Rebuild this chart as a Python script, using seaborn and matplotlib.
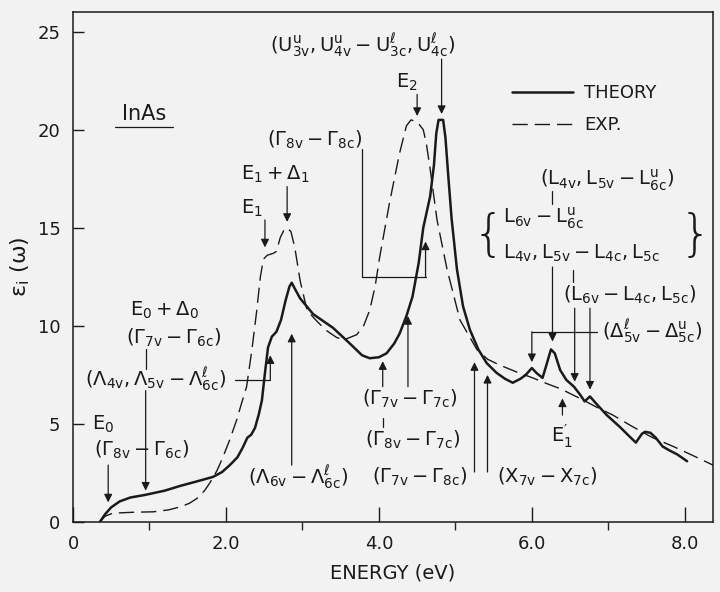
import numpy as np
import pandas as pd
import seaborn as sns
import matplotlib.pyplot as plt

# epsilon_2 of InAs
theory_e = [0.35, 0.42, 0.50, 0.61, 0.75, 0.94, 1.20, 1.40, 1.60, 1.83, 1.95, 2.05, 2.15,
            2.22, 2.28, 2.33, 2.38, 2.43, 2.47, 2.51, 2.55, 2.60, 2.66, 2.72, 2.78, 2.83,
            2.86, 2.90, 2.97, 3.14, 3.40, 3.62, 3.78, 3.88, 4.00, 4.10, 4.20, 4.27, 4.36,
            4.44, 4.52, 4.58, 4.67, 4.72, 4.75, 4.78, 4.84, 4.87, 4.91, 4.95, 5.02, 5.10,
            5.19, 5.30, 5.41, 5.54, 5.65, 5.75, 5.85, 5.92, 6.00, 6.06, 6.14, 6.19, 6.25,
            6.30, 6.37, 6.45, 6.55, 6.63, 6.69, 6.76, 6.85, 6.98, 7.15, 7.28, 7.36, 7.44,
            7.48, 7.55, 7.62, 7.71, 7.80, 7.90, 8.03]
theory_eps = [0.0, 0.4, 0.75, 1.05, 1.25, 1.38, 1.6, 1.84, 2.05, 2.3, 2.55, 2.9, 3.3,
              3.8, 4.3, 4.45, 4.8, 5.5, 6.2, 7.6, 8.9, 9.45, 9.7, 10.3, 11.3, 12.0,
              12.2, 11.9, 11.4, 10.6, 9.9, 9.1, 8.5, 8.35, 8.4, 8.6, 9.1, 9.6, 10.5,
              11.5, 13.2, 15.0, 16.6, 18.2, 19.8, 20.5, 20.5, 19.6, 17.5, 15.5, 12.9, 11.0,
              9.8, 8.8, 8.1, 7.6, 7.3, 7.1, 7.3, 7.5, 7.85, 7.6, 7.35, 8.0, 8.8,
              8.6, 7.75, 7.25, 6.9, 6.5, 6.15, 6.4, 6.0, 5.45, 4.85, 4.35, 4.05, 4.5,
              4.6, 4.55, 4.3, 3.85, 3.65, 3.45, 3.1]

exp_e = [0.35, 0.42, 0.52, 0.80, 1.05, 1.25, 1.40, 1.52, 1.62, 1.72, 1.79, 1.88, 1.96,
         2.05, 2.14, 2.20, 2.27, 2.34, 2.40, 2.45, 2.49, 2.54, 2.62, 2.66, 2.71, 2.76,
         2.80, 2.85, 2.90, 2.97, 3.06, 3.15, 3.30, 3.45, 3.55, 3.71, 3.80, 3.88, 3.95,
         4.01, 4.14, 4.27, 4.36, 4.42, 4.50, 4.58, 4.62, 4.67, 4.76, 4.89, 5.06, 5.28,
         5.42, 5.58, 5.80, 6.01, 6.20, 6.37, 6.63, 6.85, 7.06, 7.30, 7.58, 7.85, 8.10, 8.37]
exp_eps = [0.0, 0.3, 0.45, 0.5, 0.52, 0.62, 0.77, 0.95, 1.2, 1.6, 2.0, 2.6, 3.3,
           4.2, 5.2, 6.0, 6.9, 8.8, 10.7, 12.5, 13.4, 13.6, 13.7, 13.8, 14.5, 14.9,
           15.0, 14.8, 14.0, 12.3, 10.8, 10.4, 9.8, 9.4, 9.3, 9.55, 10.0, 10.8, 12.0,
           13.5, 16.3, 18.8, 20.2, 20.5, 20.4, 20.0, 19.3, 18.0, 15.4, 12.9, 10.3, 8.8,
           8.3, 8.0, 7.65, 7.35, 7.05, 6.8, 6.3, 5.85, 5.45, 4.9, 4.3, 3.85, 3.4, 2.9]

xticks = [0, 2, 4, 6, 8]
xtick_labels = ['0', '2.0', '4.0', '6.0', '8.0']
yticks = [0, 5, 10, 15, 20, 25]

df = pd.concat([
    pd.DataFrame({'energy': theory_e, 'eps': theory_eps, 'curve': 'THEORY'}),
    pd.DataFrame({'energy': exp_e, 'eps': exp_eps, 'curve': 'EXP.'}),
])

sns.set_theme(style='ticks')
bg = '#f2f2f2'
plt.rcParams['font.family'] = ['DejaVu Sans']
plt.rcParams['mathtext.fontset'] = 'dejavusans'
plt.rcParams['mathtext.default'] = 'regular'
plt.rcParams['text.color'] = 'k'
plt.rcParams['axes.labelcolor'] = 'k'

fig = plt.figure(figsize=(7.2, 5.92), dpi=100, facecolor=bg)
ax = fig.add_axes([0.1014, 0.1182, 0.889, 0.8615], facecolor=bg)

sns.lineplot(data=df[df.curve == 'THEORY'], x='energy', y='eps', color='k', lw=1.8,
             label='THEORY', ax=ax, sort=False)
sns.lineplot(data=df[df.curve == 'EXP.'], x='energy', y='eps', color='k', lw=1.0,
             dashes=(11, 5), label='EXP.', ax=ax, sort=False)

ax.set_xlim(0, 8.37)
ax.set_ylim(0, 26)
ax.set_xticks(xticks, xtick_labels)
ax.set_xticks([1, 3, 5, 7], minor=True)
ax.set_yticks(yticks, [str(v) for v in yticks])
ax.tick_params(direction='in', labelsize=13, colors='k')
ax.tick_params(axis='x', which='major', length=11, width=1, pad=9)
ax.tick_params(axis='x', which='minor', length=6, width=1)
ax.tick_params(axis='y', length=8, width=1, pad=9)
for s in ax.spines.values():
    s.set_linewidth(1.1)
    s.set_color('k')
ax.set_xlabel('ENERGY (eV)', fontsize=14, labelpad=8)
ax.set_ylabel(r'$\epsilon_i\ (\omega)$', fontsize=16, labelpad=4)

leg = ax.legend(frameon=False, loc='upper left', bbox_to_anchor=(0.66, 0.89),
                fontsize=13, handlelength=3.4, labelspacing=0.75, handletextpad=0.6)

fs = 14


def txt(x, y, s, ha='center', size=fs):
    ax.text(x, y, s, ha=ha, va='center', fontsize=size, color='k')


def arrow(x, y0, y1):
    ax.annotate('', xy=(x, y1), xytext=(x, y0),
                arrowprops=dict(arrowstyle='-|>', color='k', lw=0.9, shrinkA=0,
                                shrinkB=0, mutation_scale=12))


def line(xs, ys):
    ax.plot(xs, ys, color='k', lw=0.9)


# sample name
txt(0.93, 20.8, 'InAs', size=15)
line([0.55, 1.31], [20.15, 20.15])

# upper labels
txt(3.79, 24.3, r'$(U_{3v}^{u},U_{4v}^{u}-U_{3c}^{\ell},U_{4c}^{\ell})$')
arrow(4.82, 23.6, 20.8)
txt(4.37, 22.4, r'$E_2$')
arrow(4.50, 21.8, 20.7)
txt(3.16, 19.5, r'$(\Gamma_{8v}-\Gamma_{8c})$')
line([3.78, 3.78, 4.61], [19.0, 12.5, 12.5])
arrow(4.61, 12.5, 14.3)
txt(2.64, 17.7, r'$E_1+\Delta_1$')
arrow(2.80, 17.1, 15.3)
txt(2.34, 16.0, r'$E_1$')
arrow(2.51, 15.4, 14.0)

# left labels
txt(1.19, 10.8, r'$E_0+\Delta_0$')
txt(1.32, 9.4, r'$(\Gamma_{7v}-\Gamma_{6c})$')
line([0.95, 0.95], [8.8, 7.8])
arrow(0.95, 6.7, 1.6)
txt(1.08, 7.25, r'$(\Lambda_{4v},\Lambda_{5v}-\Lambda_{6c}^{\ell})$')
line([2.12, 2.58], [7.25, 7.25])
arrow(2.58, 7.25, 8.5)
txt(0.39, 5.0, r'$E_0$')
txt(0.90, 3.67, r'$(\Gamma_{8v}-\Gamma_{6c})$')
arrow(0.46, 2.9, 1.0)
txt(2.94, 2.25, r'$(\Lambda_{6v}-\Lambda_{6c}^{\ell})$')
arrow(2.86, 2.9, 9.6)

# lower middle labels
txt(4.40, 6.3, r'$(\Gamma_{7v}-\Gamma_{7c})$')
arrow(4.05, 6.9, 8.2)
arrow(4.38, 6.9, 10.5)
line([4.05, 4.05], [5.3, 4.85])
txt(4.44, 4.2, r'$(\Gamma_{8v}-\Gamma_{7c})$')
txt(4.54, 2.3, r'$(\Gamma_{7v}-\Gamma_{8c})$')
arrow(5.25, 2.55, 8.15)
txt(6.20, 2.3, r'$(X_{7v}-X_{7c})$')
arrow(5.42, 2.55, 7.5)
txt(6.40, 4.35, r"$E_1^{\prime}$")
arrow(6.40, 5.45, 6.3)

# right labels
txt(7.58, 9.7, r'$(\Delta_{5v}^{\ell}-\Delta_{5c}^{u})$')
line([6.85, 6.0], [9.7, 9.7])
arrow(6.0, 9.7, 8.15)
txt(7.28, 11.6, r'$(L_{6v}-L_{4c},L_{5c})$')
arrow(6.56, 10.9, 7.15)
arrow(6.76, 10.9, 6.75)
txt(6.98, 17.4, r'$(L_{4v},L_{5v}-L_{6c}^{u})$')
line([6.27, 6.27], [16.9, 16.2])
txt(5.62, 15.5, r'$L_{6v}-L_{6c}^{u}$', ha='left')
txt(5.62, 13.7, r'$L_{4v},L_{5v}-L_{4c},L_{5c}$', ha='left')
ax.text(5.43, 14.6, '{', ha='center', va='center', fontsize=36, color='k',
        fontweight='light')
ax.text(8.14, 14.6, '}', ha='center', va='center', fontsize=36, color='k',
        fontweight='light')
arrow(6.27, 13.0, 9.2)
line([6.54, 6.54], [12.85, 12.25])

fig.savefig('out.png', dpi=100, facecolor=bg)
